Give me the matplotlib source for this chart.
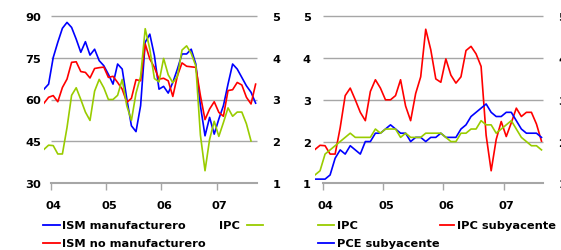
import matplotlib
matplotlib.use('Agg')
import matplotlib.pyplot as plt
from matplotlib.lines import Line2D
from matplotlib.transforms import ScaledTranslation
import numpy as np

# monthly data, Nov 2003 onward (index 0 = Nov 2003)
ism_manuf = [63.7, 65.5, 75.0, 80.5, 85.5, 87.6, 85.8, 81.6, 76.9, 80.7, 75.9, 78.0,
             73.9, 72.1, 69.0, 65.5, 72.7, 70.9, 60.2, 50.6, 48.5, 57.8, 80.5, 83.4,
             75.7, 63.7, 64.7, 62.3, 66.1, 70.9, 76.3, 76.3, 78.0, 72.7, 57.8, 47.0,
             53.6, 47.6, 53.0, 57.8, 65.5, 72.7, 70.9, 67.9, 64.9, 62.6, 58.7]
ism_no_manuf = [58.7, 60.8, 61.4, 59.2, 64.3, 67.3, 73.3, 73.5, 70.0, 69.7, 67.7, 71.1,
                71.4, 71.6, 67.9, 68.3, 66.1, 63.7, 59.0, 60.4, 67.1, 66.7, 79.9, 74.5,
                71.5, 67.3, 67.6, 66.7, 61.1, 68.5, 73.1, 71.9, 71.7, 71.5, 61.4, 52.8,
                56.6, 59.2, 55.4, 54.0, 63.2, 63.5, 66.1, 65.2, 60.8, 58.4, 65.5]
ipc = [1.81, 1.91, 1.90, 1.70, 1.70, 2.33, 3.10, 3.28, 3.00, 2.70, 2.50, 3.20,
       3.48, 3.28, 3.00, 3.00, 3.10, 3.48, 2.85, 2.50, 3.15, 3.55, 4.69, 4.20,
       3.50, 3.42, 3.98, 3.59, 3.40, 3.55, 4.18, 4.28, 4.10, 3.80, 2.15, 1.30,
       2.05, 2.48, 2.12, 2.45, 2.80, 2.60, 2.70, 2.70, 2.42, 2.01]
ipc_core = [1.2, 1.3, 1.7, 1.8, 1.9, 2.0, 2.1, 2.2, 2.1, 2.1, 2.1, 2.1,
            2.3, 2.2, 2.3, 2.3, 2.3, 2.1, 2.2, 2.1, 2.1, 2.1, 2.2, 2.2,
            2.2, 2.2, 2.1, 2.0, 2.0, 2.2, 2.2, 2.3, 2.3, 2.5, 2.4, 2.4,
            2.2, 2.3, 2.4, 2.5, 2.3, 2.1, 2.0, 1.9, 1.9, 1.8]
pce_core = [1.1, 1.1, 1.1, 1.2, 1.6, 1.8, 1.7, 1.9, 1.8, 1.7, 2.0, 2.0,
            2.2, 2.2, 2.3, 2.4, 2.3, 2.2, 2.2, 2.0, 2.1, 2.1, 2.0, 2.1,
            2.1, 2.2, 2.1, 2.1, 2.1, 2.3, 2.4, 2.6, 2.7, 2.8, 2.9, 2.7,
            2.6, 2.6, 2.7, 2.7, 2.5, 2.3, 2.2, 2.2, 2.2, 2.1]
year_ticks = [1.5, 13.5, 25.5, 37.5]
year_labels = ['04', '05', '06', '07']

BLUE = '#0000ff'
RED = '#ff0000'
GREEN = '#99cc00'
GRID = '#a6a6a6'
W, H = 561, 251
FS = 8.2

plt.rcParams['font.family'] = 'DejaVu Sans'
plt.rcParams['font.weight'] = 'bold'

fig = plt.figure(figsize=(W / 100, H / 100), dpi=100)


def px(x0, y0, x1, y1):
    return [x0 / W, 1 - y1 / H, (x1 - x0) / W, (y1 - y0) / H]


def style(ax, xmax, yticks, pad_l):
    for s in ax.spines.values():
        s.set_visible(False)
    ax.spines['bottom'].set_visible(True)
    ax.spines['bottom'].set_bounds(1.5, xmax)
    ax.spines['bottom'].set_color(GRID)
    ax.spines['bottom'].set_linewidth(1.5)
    ax.set_xlim(0, xmax)
    ax.set_yticks(yticks)
    ax.hlines(yticks[1:], 1.5, xmax, color=GRID, lw=1.0, clip_on=False, zorder=0)
    ax.tick_params(axis='y', length=0, pad=pad_l, labelsize=FS)
    ax.set_xticks(year_ticks)
    ax.set_xticklabels(year_labels)
    ax.tick_params(axis='x', length=5, width=1, color=GRID, pad=7, labelsize=FS)
    shift = ScaledTranslation(3 / 100, 0, fig.dpi_scale_trans)
    for t in ax.get_xticklabels():
        t.set_transform(t.get_transform() + shift)


# left panel
ax1 = fig.add_axes(px(44, 16.7, 257, 184.3))
x47 = np.arange(len(ism_manuf))
x46 = np.arange(len(ipc))
ax1.set_ylim(30, 90)
style(ax1, 46.3, [30, 45, 60, 75, 90], 2)
ax1.plot(x47, ism_manuf, color=BLUE, lw=1.2)
ax1.plot(x47, ism_no_manuf, color=RED, lw=1.2)
ax1b = ax1.twinx()
ax1b.set_ylim(1, 5)
ax1b.set_yticks([1, 2, 3, 4, 5])
for s in ax1b.spines.values():
    s.set_visible(False)
ax1b.tick_params(axis='y', length=0, pad=11, labelsize=FS)
ax1b.plot(x46, ipc, color=GREEN, lw=1.2)

# right panel
ax2 = fig.add_axes(px(315, 17.3, 543, 184.3))
ax2.set_ylim(1, 5)
style(ax2, 45.3, [1, 2, 3, 4, 5], 3)
ax2.plot(x46, ipc, color=RED, lw=1.2)
ax2.plot(x46, pce_core, color=BLUE, lw=1.2)
ax2.plot(x46, ipc_core, color=GREEN, lw=1.2)
ax2b = ax2.twinx()
ax2b.set_ylim(1, 5)
ax2b.set_yticks([1, 2, 3, 4, 5])
for s in ax2b.spines.values():
    s.set_visible(False)
ax2b.tick_params(axis='y', length=0, pad=11, labelsize=FS)


# legends drawn by hand
def key(x0, x1, y, color):
    fig.add_artist(Line2D([x0 / W, x1 / W], [1 - y / H, 1 - y / H], color=color, lw=1.3))


def label(x, y, s, ha='left'):
    fig.text(x / W, 1 - y / H, s, ha=ha, va='center', fontsize=FS, fontweight='bold')


key(43, 60, 226, BLUE)
label(62, 226, 'ISM manufacturero')
label(240, 226, 'IPC', ha='right')
key(247, 263, 226, GREEN)
key(43, 60, 244, RED)
label(62, 244, 'ISM no manufacturero')

key(318, 334, 226, GREEN)
label(337, 226, 'IPC')
key(440, 454, 226, RED)
label(457, 226, 'IPC subyacente')
key(318, 334, 244, BLUE)
label(337, 244, 'PCE subyacente')

fig.savefig('out.png', dpi=100)
